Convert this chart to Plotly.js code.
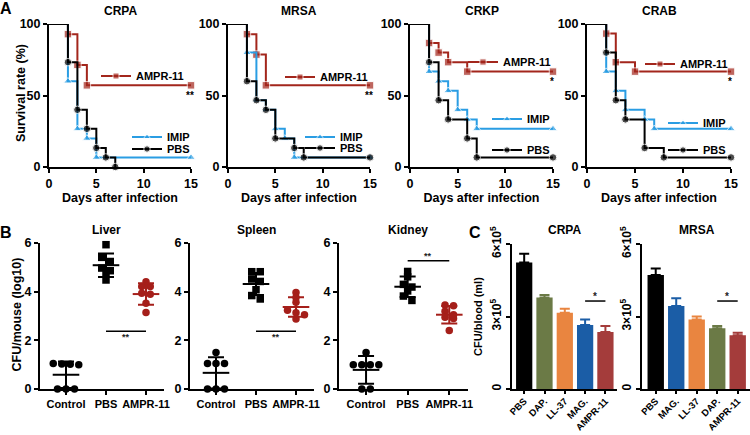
<!DOCTYPE html>
<html>
<head>
<meta charset="utf-8">
<script src="https://cdn.plot.ly/plotly-3.0.1.min.js"></script>
<style>
  body { margin: 0; background: #fff; }
  #chart { width: 750px; height: 435px; }
</style>
</head>
<body>
<div id="chart"></div>
<script>
// ---------- A: survival curves (day, % surviving) ----------
var crpaAmprDays = [0, 2, 3, 4, 15],          crpaAmprSurv = [100, 92.9, 71.4, 57.1, 57.1];
var crpaImipDays = [0, 2, 3, 4, 5, 15],       crpaImipSurv = [100, 60, 26.7, 20, 6.7, 6.7];
var crpaPbsDays  = [0, 2, 3, 4, 5, 6, 7],     crpaPbsSurv  = [100, 73.3, 40, 26.7, 13.3, 6.7, 0];

var mrsaAmprDays = [0, 2, 3, 4, 15],             mrsaAmprSurv = [100, 92.9, 78.6, 57.1, 57.1];
var mrsaImipDays = [0, 2, 3, 4, 5, 6, 7, 15],    mrsaImipSurv = [100, 80, 46.7, 40, 26.7, 20, 6.7, 6.7];
var mrsaPbsDays  = [0, 2, 3, 4, 5, 7, 8, 15],    mrsaPbsSurv  = [100, 60, 46.7, 40, 20, 13.3, 6.7, 6.7];

var crkpAmprDays = [0, 2, 3, 4, 6, 15],          crkpAmprSurv = [100, 86.7, 80, 73.3, 66.7, 66.7];
var crkpImipDays = [0, 2, 3, 4, 5, 6, 7, 15],    crkpImipSurv = [100, 66.7, 60, 53.3, 40, 33.3, 26.7, 26.7];
var crkpPbsDays  = [0, 2, 3, 4, 6, 7, 15],       crkpPbsSurv  = [100, 73.3, 46.7, 33.3, 20, 6.7, 6.7];

var crabAmprDays = [0, 2, 3, 5, 15],             crabAmprSurv = [100, 93.3, 73.3, 66.7, 66.7];
var crabImipDays = [0, 2, 3, 4, 6, 7, 15],       crabImipSurv = [100, 66.7, 53.3, 40, 33.3, 26.7, 26.7];
var crabPbsDays  = [0, 2, 3, 4, 6, 8, 15],       crabPbsSurv  = [100, 80, 46.7, 33.3, 13.3, 6.7, 6.7];

// ---------- B: organ burden, CFU/mouse (log10), 7 mice per group ----------
var organCats = ['Control', 'PBS', 'AMPR-11'];
var liverControl  = [1.05, 1.03, 1.02, 1.0, 0, 0, 0];
var liverPBS      = [5.93, 5.41, 5.24, 4.97, 4.86, 4.72, 4.48];
var liverAMPR     = [4.41, 4.21, 4.21, 3.93, 3.89, 3.52, 3.14];
var spleenControl = [1.5, 1.05, 1.05, 1.05, 0, 0, 0];
var spleenPBS     = [4.82, 4.82, 4.52, 4.42, 4.08, 3.84, 3.70];
var spleenAMPR    = [3.97, 3.76, 3.56, 3.24, 3.13, 3.05, 2.88];
var kidneyControl = [1.5, 1.0, 1.0, 1.0, 1.0, 0, 0];
var kidneyPBS     = [4.83, 4.61, 4.30, 4.19, 4.03, 3.82, 3.64];
var kidneyAMPR    = [3.45, 3.42, 3.2, 3.05, 2.95, 2.9, 2.4];

// ---------- C: CFU/blood (ml), mean and upper error ----------
var crpaBloodGroups = ['PBS', 'DAP.', 'LL-37', 'MAG.', 'AMPR-11'];
var crpaBloodMean   = [5.23e5, 3.79e5, 3.16e5, 2.65e5, 2.36e5];
var crpaBloodErr    = [0.37e5, 0.10e5, 0.16e5, 0.23e5, 0.25e5];
var mrsaBloodGroups = ['PBS', 'MAG.', 'LL-37', 'DAP.', 'AMPR-11'];
var mrsaBloodMean   = [4.72e5, 3.43e5, 2.88e5, 2.51e5, 2.22e5];
var mrsaBloodErr    = [0.27e5, 0.32e5, 0.12e5, 0.10e5, 0.11e5];

// ---------- helpers ----------
var W = 750, H = 435;
var FONT = 'Liberation Sans, Arial, sans-serif';
function px(p) { return p / W; }
function py(p) { return 1 - p / H; }
function bold(size, color) {
    return {family: FONT, size: size, color: color || '#000', weight: 'bold'};
}
function axis(extra) {
    var a = {
        showline: true, linewidth: 2, linecolor: '#000',
        ticks: 'outside', ticklen: 4, tickwidth: 2, tickcolor: '#000',
        showgrid: false, zeroline: false, fixedrange: true,
        tickfont: bold(12.5)
    };
    for (var k in extra) a[k] = extra[k];
    return a;
}
function mean(a) { return a.reduce(function(s, v) { return s + v; }, 0) / a.length; }
function sd(a) {
    var m = mean(a);
    return Math.sqrt(a.reduce(function(s, v) { return s + (v - m) * (v - m); }, 0) / (a.length - 1));
}
// spread points that share a row (GraphPad-like scatter)
function rowOffsets(vals, uy, d) {
    var order = vals.map(function(v, i) { return i; }).sort(function(a, b) { return vals[b] - vals[a]; });
    var rows = [], out = new Array(vals.length);
    order.forEach(function(i) {
        var r = rows[rows.length - 1];
        if (r && (vals[r[0]] - vals[i]) * uy < d * 0.55) r.push(i);
        else rows.push([i]);
    });
    rows.forEach(function(r) {
        r.forEach(function(i, k) { out[i] = (k - (r.length - 1) / 2) * d; });
    });
    return out;
}
function vTitle(text, x, y, size) {
    layout.annotations.push({
        text: text, xref: 'paper', yref: 'paper', x: px(x), y: py(y), textangle: -90,
        xanchor: 'center', yanchor: 'middle', showarrow: false, font: bold(size)
    });
}

var RED = '#a3261c', BLUE = '#2a9de3', BLACK = '#000000';
var data = [];
var layout = {
    width: W, height: H, autosize: false,
    margin: {l: 0, r: 0, t: 0, b: 0},
    paper_bgcolor: '#fff', plot_bgcolor: 'rgba(0,0,0,0)',
    font: bold(12), barmode: 'overlay',
    annotations: [], shapes: []
};

// ---------- A ----------
var curveStyle = {
    'AMPR-11': {color: RED, symbol: 'square'},
    'IMIP':    {color: BLUE, symbol: 'triangle-up'},
    'PBS':     {color: BLACK, symbol: 'circle'}
};
var survival = [
    {name: 'CRPA', xd: [49, 191], sig: '**', sigAt: 50, curves: [
        {label: 'AMPR-11', days: crpaAmprDays, surv: crpaAmprSurv, leg: [136, 76]},
        {label: 'IMIP', days: crpaImipDays, surv: crpaImipSurv, leg: [167, 137]},
        {label: 'PBS', days: crpaPbsDays, surv: crpaPbsSurv, leg: [167, 149]}]},
    {name: 'MRSA', xd: [228, 370], sig: '**', sigAt: 50, curves: [
        {label: 'AMPR-11', days: mrsaAmprDays, surv: mrsaAmprSurv, leg: [320, 77]},
        {label: 'IMIP', days: mrsaImipDays, surv: mrsaImipSurv, leg: [340, 137]},
        {label: 'PBS', days: mrsaPbsDays, surv: mrsaPbsSurv, leg: [340, 148]}]},
    {name: 'CRKP', xd: [410, 553], sig: '*', sigAt: 60, curves: [
        {label: 'AMPR-11', days: crkpAmprDays, surv: crkpAmprSurv, leg: [503, 62]},
        {label: 'IMIP', days: crkpImipDays, surv: crkpImipSurv, leg: [527, 119]},
        {label: 'PBS', days: crkpPbsDays, surv: crkpPbsSurv, leg: [527, 150]}]},
    {name: 'CRAB', xd: [587, 731], sig: '*', sigAt: 60, curves: [
        {label: 'AMPR-11', days: crabAmprDays, surv: crabAmprSurv, leg: [680, 64]},
        {label: 'IMIP', days: crabImipDays, surv: crabImipSurv, leg: [703, 123]},
        {label: 'PBS', days: crabPbsDays, surv: crabPbsSurv, leg: [703, 150]}]}
];
var nLeg = 0;
survival.forEach(function(p, i) {
    var id = i === 0 ? '' : String(i + 1);
    p.curves.forEach(function(c) {
        var legKey = nLeg === 0 ? 'legend' : 'legend' + (nLeg + 1);
        nLeg++;
        var st = curveStyle[c.label];
        data.push({
            type: 'scatter', mode: 'lines+markers', x: c.days, y: c.surv,
            xaxis: 'x' + id, yaxis: 'y' + id, name: c.label, legend: legKey,
            line: {shape: 'hv', color: st.color, width: 2},
            marker: {symbol: st.symbol, color: st.color,
                     size: c.days.map(function(d, k) { return k === 0 ? 0 : 7.5; })},
            cliponaxis: false, hoverinfo: 'skip'
        });
        layout[legKey] = {
            x: px(c.leg[0] - 40), y: py(c.leg[1]), xanchor: 'left', yanchor: 'middle',
            bgcolor: 'rgba(0,0,0,0)', borderwidth: 0, font: bold(11), itemclick: false
        };
    });
    layout['xaxis' + id] = axis({
        domain: [px(p.xd[0]), px(p.xd[1])], range: [0, 15], anchor: 'y' + id,
        tickvals: [0, 5, 10, 15],
        title: {text: 'Days after infection', font: bold(12.5), standoff: 3}
    });
    layout['yaxis' + id] = axis({
        domain: [py(167), py(24)], range: [0, 100], anchor: 'x' + id,
        tickvals: [0, 50, 100]
    });
    layout.annotations.push({
        text: p.name, xref: 'x' + id + ' domain', x: 0.5, yref: 'paper', y: py(11),
        xanchor: 'center', yanchor: 'middle', showarrow: false, font: bold(12)
    });
    layout.annotations.push({
        text: p.sig, xref: 'x' + id, x: 15, yref: 'y' + id, y: p.sigAt,
        xanchor: 'center', yanchor: 'middle', xshift: -1, showarrow: false, font: bold(10)
    });
});
vTitle('Survival rate (%)', 21, 93, 12.5);

// ---------- B ----------
var organs = [
    {name: 'Liver',  xd: [40, 164],  groups: [liverControl, liverPBS, liverAMPR],    sigY: 2.37, below: true},
    {name: 'Spleen', xd: [190, 314], groups: [spleenControl, spleenPBS, spleenAMPR], sigY: 2.37, below: true},
    {name: 'Kidney', xd: [339, 468], groups: [kidneyControl, kidneyPBS, kidneyAMPR], sigY: 5.27, below: false}
];
var organStyle = [
    {color: BLACK, symbol: 'circle'},
    {color: BLACK, symbol: 'square'},
    {color: '#a51f1a', symbol: 'circle'}
];
var B_RANGE = [-0.65, 2.45];
organs.forEach(function(o, i) {
    var id = String(i + 5);
    var ux = (o.xd[1] - o.xd[0]) / (B_RANGE[1] - B_RANGE[0]);
    var uy = (389 - 243) / 6;
    o.groups.forEach(function(vals, g) {
        var st = organStyle[g];
        var off = rowOffsets(vals, uy, 8.5);
        data.push({
            type: 'scatter', mode: 'markers', xaxis: 'x' + id, yaxis: 'y' + id,
            x: vals.map(function(v, k) { return g + off[k] / ux; }), y: vals,
            marker: {symbol: st.symbol, color: st.color, size: 7.5},
            showlegend: false, cliponaxis: false, hoverinfo: 'skip'
        });
        data.push({
            type: 'scatter', mode: 'markers', xaxis: 'x' + id, yaxis: 'y' + id,
            x: [g], y: [mean(vals)],
            marker: {symbol: 'line-ew-open', color: st.color, size: 19, line: {width: 2, color: st.color}},
            error_y: {type: 'data', array: [sd(vals)], visible: true, color: st.color, thickness: 2, width: 8},
            showlegend: false, cliponaxis: false, hoverinfo: 'skip'
        });
    });
    layout['xaxis' + id] = axis({
        domain: [px(o.xd[0]), px(o.xd[1])], range: B_RANGE, anchor: 'y' + id,
        tickvals: [0, 1, 2], ticktext: organCats, tickfont: bold(11)
    });
    layout['yaxis' + id] = axis({
        domain: [py(389), py(243)], range: [0, 6], anchor: 'x' + id,
        tickvals: [0, 2, 4, 6]
    });
    layout.annotations.push({
        text: o.name, xref: 'x' + id, x: 1, yref: 'paper', y: py(229.5),
        xanchor: 'center', yanchor: 'middle', showarrow: false, font: bold(12)
    });
    layout.shapes.push({
        type: 'line', xref: 'x' + id, yref: 'y' + id, x0: 1, x1: 2, y0: o.sigY, y1: o.sigY,
        line: {color: '#000', width: 1.5}
    });
    layout.annotations.push({
        text: '**', xref: 'x' + id, x: 1.5, yref: 'y' + id, y: o.sigY,
        xanchor: 'center', yanchor: o.below ? 'top' : 'bottom', yshift: o.below ? 1 : -2,
        showarrow: false, font: bold(9, '#222')
    });
});
vTitle('CFU/mouse (log10)', 16.5, 315, 12.5);

// ---------- C ----------
var barColor = {'PBS': '#000000', 'DAP.': '#6b7a46', 'LL-37': '#e98540', 'MAG.': '#1b5da6', 'AMPR-11': '#a43c3b'};
var blood = [
    {name: 'CRPA', xd: [512, 617], range: [-0.6, 4.57], groups: crpaBloodGroups, mean: crpaBloodMean, err: crpaBloodErr, sig: 3.64e5},
    {name: 'MRSA', xd: [642, 750], range: [-0.67, 4.6], groups: mrsaBloodGroups, mean: mrsaBloodMean, err: mrsaBloodErr, sig: 3.64e5}
];
blood.forEach(function(b, i) {
    var id = String(i + 8);
    b.groups.forEach(function(g, k) {
        data.push({
            type: 'bar', x: [k], y: [b.mean[k]], width: 0.8, xaxis: 'x' + id, yaxis: 'y' + id,
            marker: {color: barColor[g], line: {width: 0}},
            error_y: {type: 'data', symmetric: false, array: [b.err[k]], arrayminus: [0],
                      visible: true, color: barColor[g], thickness: 2, width: 5},
            showlegend: false, hoverinfo: 'skip'
        });
    });
    layout['xaxis' + id] = axis({
        domain: [px(b.xd[0]), px(b.xd[1])], range: b.range, anchor: 'y' + id,
        tickvals: [0, 1, 2, 3, 4], ticktext: b.groups, tickangle: -45, tickfont: bold(9.5),
        ticklen: 3, ticklabelstandoff: -2
    });
    layout['yaxis' + id] = axis({
        domain: [py(389), py(244)], range: [0, 6e5], anchor: 'x' + id,
        tickvals: [0, 3e5, 6e5], ticktext: ['0', '3×10<sup>5</sup>', '6×10<sup>5</sup>'],
        tickangle: -90, tickfont: bold(12)
    });
    layout.annotations.push({
        text: b.name, xref: 'x' + id, x: 2, yref: 'paper', y: py(230),
        xanchor: 'center', yanchor: 'middle', showarrow: false, font: bold(12)
    });
    layout.shapes.push({
        type: 'line', xref: 'x' + id, yref: 'y' + id, x0: 3, x1: 4, y0: b.sig, y1: b.sig,
        line: {color: '#000', width: 1.5}
    });
    layout.annotations.push({
        text: '*', xref: 'x' + id, x: 3.5, yref: 'y' + id, y: b.sig,
        xanchor: 'center', yanchor: 'bottom', yshift: -3, showarrow: false, font: bold(10, '#222')
    });
});
vTitle('CFU/blood (ml)', 478, 317, 11);

// panel letters
[['A', 6, 8], ['B', 6, 232], ['C', 475, 232]].forEach(function(l) {
    layout.annotations.push({
        text: l[0], xref: 'paper', yref: 'paper', x: px(l[1]), y: py(l[2]),
        xanchor: 'center', yanchor: 'middle', showarrow: false, font: bold(16)
    });
});

Plotly.newPlot('chart', data, layout, {displayModeBar: false, staticPlot: true});
</script>
</body>
</html>
